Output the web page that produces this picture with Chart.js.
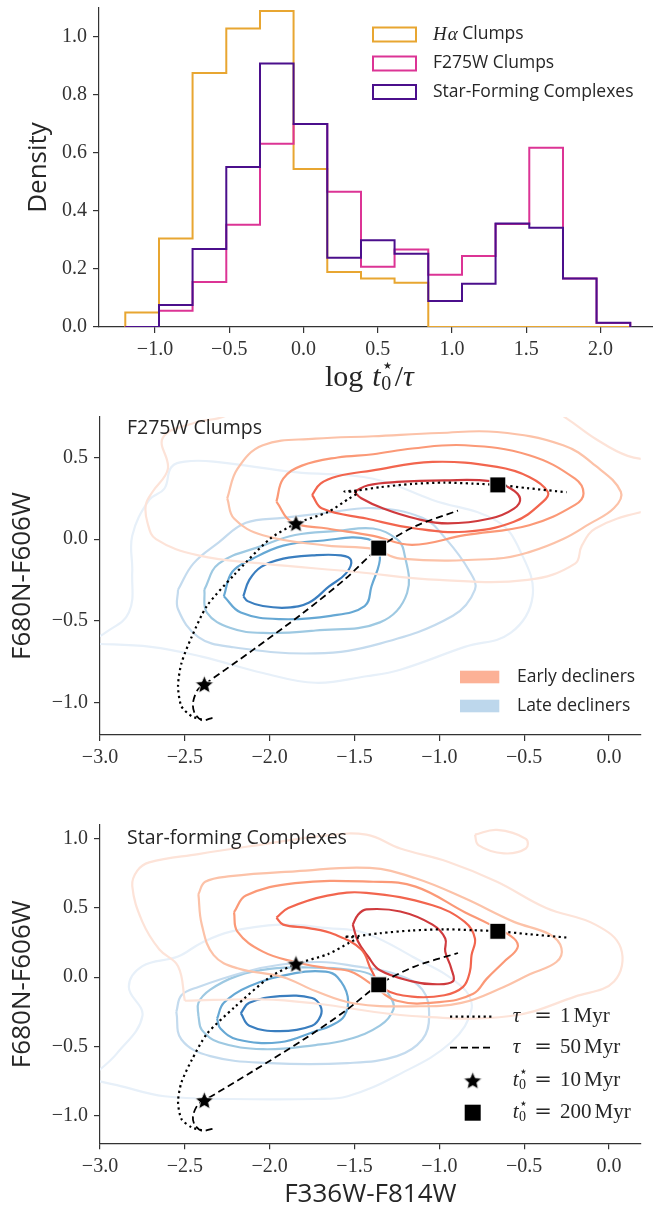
<!DOCTYPE html>
<html>
<head>
<meta charset="utf-8">
<title>Clump ages and colour tracks</title>
<script src="https://cdn.jsdelivr.net/npm/chart.js@4"></script>
<style>
  body { margin: 0; background: #fff; }
  #wrap { position: relative; width: 653px; height: 1210px; overflow: hidden; }
  canvas { position: absolute; left: 0; }
</style>
</head>
<body>
<div id="wrap">
  <canvas id="histChart" width="653" height="400" style="top:0px"></canvas>
  <canvas id="f275Chart" width="653" height="390" style="top:400px"></canvas>
  <canvas id="sfcChart" width="653" height="420" style="top:790px"></canvas>
</div>
<script>
// ---------- top panel: histograms of log t0/tau ----------
const binEdges = [-1.2, -0.973, -0.747, -0.52, -0.293, -0.067, 0.16, 0.387, 0.613, 0.84, 1.067, 1.293, 1.52, 1.747, 1.973, 2.2];
const haClumps    = [0.05, 0.305, 0.876, 1.029, 1.09, 0.545, 0.19, 0.167, 0.153, 0, 0, 0, 0, 0, 0];
const f275wClumps = [0, 0.056, 0.155, 0.353, 0.632, 0.70, 0.466, 0.208, 0.267, 0.18, 0.245, 0.355, 0.618, 0.167, 0.014];
const sfComplexes = [0, 0.076, 0.269, 0.552, 0.909, 0.70, 0.239, 0.299, 0.253, 0.09, 0.149, 0.357, 0.342, 0.167, 0.015];
const histLabels = ['Hα Clumps', 'F275W Clumps', 'Star-Forming Complexes'];
const histXTicks = [-1.0, -0.5, 0.0, 0.5, 1.0, 1.5, 2.0];
const histYTicks = [0.0, 0.2, 0.4, 0.6, 0.8, 1.0];

// ---------- colour-colour panels ----------
const colorXTicks = [-3.0, -2.5, -2.0, -1.5, -1.0, -0.5, 0.0];
const f275YTicks = [-1.0, -0.5, 0.0, 0.5];
const sfcYTicks = [-1.0, -0.5, 0.0, 0.5, 1.0];

// model tracks (same in both panels)
const tau1Track = [[-2.40,-1.105],[-2.46,-1.085],[-2.52,-1.024],[-2.54,-0.90],[-2.52,-0.76],[-2.46,-0.60],[-2.37,-0.41],
  [-2.21,-0.22],[-2.0,0.0],[-1.845,0.095],[-1.655,0.167],[-1.53,0.25],[-1.48,0.285],[-1.56,0.292],[-1.48,0.298],
  [-1.35,0.318],[-1.16,0.338],[-0.97,0.346],[-0.80,0.34],[-0.655,0.332],[-0.48,0.312],[-0.25,0.287]];
const tau50Track = [[-2.337,-1.095],[-2.40,-1.11],[-2.443,-1.064],[-2.452,-1.003],[-2.424,-0.922],[-2.385,-0.891],
  [-2.1,-0.68],[-1.8,-0.45],[-1.55,-0.24],[-1.357,-0.055],[-1.15,0.075],[-0.89,0.175]];
const age10Myr = [[-1.845,0.095],[-2.385,-0.891]];
const age200Myr = [[-1.357,-0.055],[-0.655,0.332]];
const trackLabels = ['τ = 1 Myr', 'τ = 50 Myr', 't0 = 10 Myr', 't0 = 200 Myr'];
const declinerLabels = ['Early decliners', 'Late decliners'];

// KDE contour levels, outermost first
const f275wEarly = [
  [[0.3,0.16],[0.19,0.165],[-0.08,0.065],[-0.16,-0.04],[-0.2,-0.15],[-0.48,-0.25],[-1.0,-0.25],[-1.5,-0.2],[-2.04,-0.15],
   [-2.42,-0.10],[-2.67,0.0],[-2.72,0.10],[-2.73,0.21],[-2.69,0.29],[-2.60,0.43],[-2.63,0.62],[-2.45,0.71],[-2.25,0.76],
   [-2.1,0.9],[-0.5,0.9],[-0.25,0.74],[-0.08,0.615],[0.11,0.51],[0.3,0.48]],
  [[-2.25,0.25],[-2.19,0.43],[-2.04,0.575],[-1.73,0.615],[-1.39,0.63],[-1.0,0.65],[-0.66,0.656],[-0.27,0.575],[-0.08,0.45],
   [0.07,0.29],[0.03,0.19],[-0.12,0.09],[-0.27,0.0],[-0.47,-0.08],[-0.66,-0.12],[-1.23,-0.12],[-1.39,-0.06],[-1.66,-0.04],
   [-2.04,0.024],[-2.21,0.126],[-2.25,0.25]],
  [[-1.96,0.23],[-1.92,0.37],[-1.81,0.45],[-1.6,0.50],[-1.39,0.52],[-1.16,0.555],[-0.85,0.575],[-0.47,0.514],[-0.2,0.37],
   [-0.15,0.28],[-0.2,0.21],[-0.47,0.085],[-0.85,0.024],[-1.16,-0.035],[-1.39,0.02],[-1.66,0.065],[-1.87,0.105],[-1.96,0.23]],
  [[-1.75,0.27],[-1.70,0.34],[-1.60,0.385],[-1.40,0.42],[-1.04,0.473],[-0.66,0.442],[-0.47,0.381],[-0.36,0.289],[-0.39,0.228],
   [-0.56,0.106],[-0.85,0.045],[-1.14,0.065],[-1.43,0.126],[-1.69,0.187],[-1.75,0.27]],
  [[-1.50,0.29],[-1.42,0.33],[-1.25,0.35],[-0.97,0.36],[-0.70,0.355],[-0.58,0.31],[-0.524,0.249],[-0.56,0.187],[-0.70,0.126],
   [-0.95,0.096],[-1.14,0.126],[-1.33,0.187],[-1.46,0.25],[-1.50,0.29]]
];
const f275wLate = [
  [[-3.05,-0.62],[-2.97,-0.575],[-2.83,-0.45],[-2.81,-0.2],[-2.81,0.02],[-2.71,0.24],[-2.62,0.31],[-2.58,0.44],[-2.5,0.475],
   [-2.33,0.475],[-1.85,0.41],[-1.39,0.37],[-1.04,0.24],[-0.66,0.11],[-0.52,-0.08],[-0.45,-0.35],[-0.58,-0.575],[-0.85,-0.66],
   [-1.23,-0.80],[-1.43,-0.84],[-1.73,-0.88],[-2.04,-0.82],[-2.4,-0.72],[-2.7,-0.66],[-3.05,-0.64]],
  [[-2.54,-0.31],[-2.45,-0.15],[-2.3,-0.02],[-2.14,0.10],[-1.92,0.13],[-1.67,0.16],[-1.39,0.19],[-1.1,0.13],[-0.96,0.0],
   [-0.82,-0.2],[-0.79,-0.31],[-0.92,-0.47],[-1.35,-0.64],[-1.73,-0.70],[-2.23,-0.66],[-2.42,-0.60],[-2.54,-0.43],[-2.54,-0.31]],
  [[-2.385,-0.31],[-2.3,-0.15],[-2.04,-0.04],[-1.85,0.025],[-1.6,0.05],[-1.39,0.065],[-1.25,0.0],[-1.21,-0.07],[-1.19,-0.33],
   [-1.35,-0.51],[-1.73,-0.56],[-2.04,-0.575],[-2.23,-0.545],[-2.37,-0.45],[-2.385,-0.31]],
  [[-2.27,-0.35],[-2.22,-0.2],[-2.10,-0.12],[-1.92,-0.04],[-1.7,-0.01],[-1.42,0.0],[-1.35,-0.10],[-1.40,-0.29],[-1.44,-0.41],
   [-1.64,-0.47],[-1.94,-0.49],[-2.17,-0.45],[-2.27,-0.35]],
  [[-2.155,-0.35],[-2.12,-0.25],[-2.05,-0.17],[-1.92,-0.12],[-1.75,-0.10],[-1.58,-0.10],[-1.52,-0.13],[-1.55,-0.21],[-1.65,-0.29],
   [-1.77,-0.39],[-1.9,-0.42],[-2.04,-0.41],[-2.13,-0.38],[-2.155,-0.35]]
];
const sfcEarly = [
  [[-2.5,-0.17],[-2.54,0.08],[-2.65,0.2],[-2.75,0.40],[-2.81,0.66],[-2.78,0.77],[-2.71,0.83],[-2.42,0.89],[-2.04,0.96],
   [-1.7,1.02],[-1.43,1.03],[-1.23,0.93],[-0.95,0.835],[-0.66,0.69],[-0.37,0.50],[-0.08,0.38],[0.07,0.21],[0.03,-0.03],
   [-0.2,-0.14],[-0.58,-0.28],[-1.16,-0.28],[-1.73,-0.19],[-2.04,-0.16],[-2.5,-0.17]],
  [[-2.42,0.6],[-2.38,0.69],[-2.23,0.73],[-1.85,0.765],[-1.41,0.79],[-1.14,0.715],[-0.85,0.57],[-0.56,0.40],[-0.35,0.31],
   [-0.28,0.21],[-0.31,0.11],[-0.47,0.02],[-0.62,-0.07],[-0.87,-0.185],[-1.16,-0.21],[-1.5,-0.19],[-1.73,-0.1],[-1.92,0.0],
   [-2.19,0.065],[-2.33,0.16],[-2.40,0.38],[-2.42,0.6]],
  [[-2.21,0.47],[-2.14,0.59],[-1.85,0.68],[-1.39,0.69],[-1.14,0.655],[-0.85,0.47],[-0.70,0.38],[-0.56,0.28],[-0.54,0.21],
   [-0.62,0.11],[-0.72,-0.01],[-0.80,-0.12],[-1.0,-0.18],[-1.25,-0.17],[-1.40,-0.05],[-1.52,0.04],[-1.66,0.065],[-1.85,0.11],
   [-2.04,0.185],[-2.19,0.33],[-2.21,0.47]],
  [[-1.96,0.43],[-1.89,0.50],[-1.66,0.59],[-1.43,0.61],[-1.04,0.52],[-0.85,0.40],[-0.79,0.28],[-0.81,0.16],[-0.82,0.04],
   [-0.86,-0.07],[-0.97,-0.13],[-1.16,-0.14],[-1.33,-0.08],[-1.40,0.05],[-1.46,0.2],[-1.62,0.31],[-1.77,0.355],[-1.92,0.38],[-1.96,0.43]],
  [[-1.51,0.38],[-1.48,0.45],[-1.43,0.49],[-1.23,0.475],[-1.04,0.38],[-0.965,0.28],[-0.965,0.185],[-0.93,0.065],[-0.92,-0.03],
   [-1.04,-0.05],[-1.16,-0.03],[-1.35,0.05],[-1.42,0.15],[-1.48,0.26],[-1.51,0.38]]
];
const sfcEarlyIsland = [[-0.79,1.03],[-0.66,1.065],[-0.49,1.0],[-0.49,0.93],[-0.62,0.895],[-0.77,0.955],[-0.79,1.03]];
const sfcLate = [
  [[-3.05,-0.72],[-2.9,-0.55],[-2.75,-0.28],[-2.83,-0.07],[-2.75,0.08],[-2.54,0.15],[-2.4,0.25],[-2.23,0.33],[-1.94,0.38],
   [-1.66,0.355],[-1.44,0.32],[-1.16,0.15],[-0.87,-0.065],[-0.81,-0.23],[-0.93,-0.47],[-1.25,-0.71],[-1.54,-0.86],[-1.73,-0.88],
   [-2.23,-0.88],[-2.62,-0.86],[-2.9,-0.78],[-3.05,-0.74]],
  [[-2.55,-0.25],[-2.52,-0.13],[-2.42,-0.07],[-2.14,0.04],[-1.94,0.09],[-1.7,0.11],[-1.5,0.08],[-1.25,0.02],[-1.10,-0.09],
   [-1.06,-0.28],[-1.10,-0.45],[-1.25,-0.57],[-1.54,-0.62],[-2.0,-0.62],[-2.35,-0.57],[-2.52,-0.45],[-2.55,-0.25]],
  [[-2.42,-0.28],[-2.42,-0.185],[-2.35,-0.09],[-2.19,0.01],[-2.0,0.06],[-1.73,0.07],[-1.54,0.056],[-1.39,0.01],[-1.29,-0.14],
   [-1.27,-0.23],[-1.35,-0.35],[-1.54,-0.45],[-1.73,-0.49],[-2.04,-0.52],[-2.30,-0.47],[-2.40,-0.38],[-2.42,-0.28]],
  [[-2.31,-0.30],[-2.27,-0.185],[-2.12,-0.065],[-1.85,0.03],[-1.67,0.04],[-1.60,0.0],[-1.54,-0.14],[-1.56,-0.28],[-1.64,-0.35],
   [-1.73,-0.39],[-1.94,-0.47],[-2.19,-0.45],[-2.29,-0.37],[-2.31,-0.30]],
  [[-2.17,-0.26],[-2.12,-0.185],[-1.94,-0.137],[-1.75,-0.15],[-1.70,-0.21],[-1.70,-0.28],[-1.75,-0.35],[-1.94,-0.39],
   [-2.12,-0.35],[-2.17,-0.26]]
];

// ---------- styling ----------
const INK = '#333333';
const TEXT = '#262626';
const SANS = "'Open Sans', 'DejaVu Sans', sans-serif";
const SERIF = "'Liberation Serif', 'DejaVu Serif', serif";
const SYM = "'DejaVu Sans', 'Liberation Serif', serif";
const HA_COL = '#e8a631', F275_COL = '#dc3495', SFC_COL = '#4b0f8c';
const REDS = ['#fde3d8', '#fcc2a8', '#fb9977', '#f2654e', '#cf3a3d'];
const BLUES = ['#e7f0f9', '#c4dbee', '#9ec9e2', '#66a8d4', '#3a7ebf'];
const EARLY_PATCH = '#fcb196', LATE_PATCH = '#bdd7ec';

const pts = arr => arr.map(([x, y]) => ({x, y}));
const fmt = v => (v < 0 ? '\u2212' : '') + Math.abs(v).toFixed(1);

function stepPoints(heights) {
  const n = binEdges.length - 1;
  const out = [{x: binEdges[0], y: 0}];
  heights.forEach((h, i) => out.push({x: binEdges[i], y: h}));
  out.push({x: binEdges[n], y: heights[n - 1]});
  out.push({x: binEdges[n], y: 0});
  return out;
}

function starSprite(r) {
  const s = Math.ceil(r * 2 + 4);
  const c = document.createElement('canvas');
  c.width = c.height = s;
  const g = c.getContext('2d');
  g.beginPath();
  for (let i = 0; i < 10; i++) {
    const a = -Math.PI / 2 + i * Math.PI / 5;
    const rr = i % 2 ? r * 0.46 : r;
    g.lineTo(s / 2 + rr * Math.cos(a), s / 2 + 0.6 + rr * Math.sin(a));
  }
  g.closePath();
  g.fillStyle = '#000';
  g.fill();
  g.strokeStyle = '#fff';
  g.lineWidth = 0.8;
  g.stroke();
  return c;
}
const STAR = starSprite(9.5);

function axis(min, max, ticks, size, horizontal, title) {
  return {
    type: 'linear', min, max,
    afterBuildTicks: s => { s.ticks = ticks.map(v => ({value: v})); },
    afterFit: s => {
      if (horizontal) s.height = size; else s.width = size;
      s.paddingTop = s.paddingBottom = s.paddingLeft = s.paddingRight = 0;
    },
    grid: { drawOnChartArea: false, drawTicks: true, tickLength: 6, color: INK, lineWidth: 1.2 },
    border: { display: true, color: INK, width: 1.2 },
    ticks: { callback: v => fmt(v), font: { family: SERIF, size: 20 }, color: INK,
             padding: horizontal ? 5 : 6, maxRotation: 0, autoSkip: false },
    title: title || { display: false }
  };
}

function axisTitle(text, pad) {
  return { display: true, text, color: TEXT, font: { family: SANS, size: 26 }, padding: { top: pad, bottom: 0 } };
}

function baseOptions(padTop, x, y) {
  return {
    responsive: false, animation: false, events: [],
    layout: { padding: { top: padTop, left: 0, right: 0, bottom: 0 } },
    plugins: { legend: { display: false }, tooltip: { enabled: false } },
    elements: { point: { radius: 0 } },
    scales: { x, y }
  };
}

// ---------- text helpers for the decorations ----------
function text(ctx, str, x, y, font, align) {
  ctx.font = font;
  ctx.fillStyle = TEXT;
  ctx.textAlign = align || 'left';
  ctx.textBaseline = 'middle';
  ctx.fillText(str, x, y);
  return ctx.measureText(str).width;
}

// t with subscript 0 and a superscript star, returns width
function tStar(ctx, x, y, size) {
  let w = text(ctx, 't', x, y, `italic ${size}px ${SERIF}`);
  const small = Math.round(size * 0.68);
  const w0 = text(ctx, '0', x + w + 0.5, y + size * 0.22, `${small}px ${SERIF}`);
  const ws = text(ctx, '\u22c6', x + w + 0.5, y - size * 0.38, `${small}px ${SYM}`);
  return w + 0.5 + Math.max(w0, ws);
}

// ---------- top panel ----------
const histDecor = {
  id: 'histDecor',
  afterDraw(chart) {
    const ctx = chart.ctx;
    ctx.save();
    const rows = [34.5, 63.5, 92];
    chart.data.datasets.slice().sort((a, b) => a.legendIndex - b.legendIndex).forEach((ds, i) => {
      ctx.strokeStyle = ds.borderColor;
      ctx.lineWidth = 2;
      ctx.strokeRect(373, rows[i] - 7, 43, 14);
      const label = ds.label;
      let x = 433;
      if (label.startsWith('Hα')) {
        x += text(ctx, 'H', x, rows[i], `italic 19px ${SERIF}`);
        x += text(ctx, 'α', x + 1, rows[i], `italic 19px ${SERIF}`) + 1;
        text(ctx, label.slice(2), x, rows[i], `17.5px ${SANS}`);
      } else {
        text(ctx, label, x, rows[i], `17.5px ${SANS}`);
      }
    });
    // x label: log t0*/tau
    const y = 378, size = 30;
    let x = 325;
    x += text(ctx, 'log', x, y, `${size}px ${SERIF}`) + size * 0.3;
    x += tStar(ctx, x, y, size) + 1;
    x += text(ctx, '/', x, y, `${size}px ${SERIF}`);
    text(ctx, 'τ', x, y, `italic ${size}px ${SERIF}`);
    ctx.restore();
  }
};

new Chart(document.getElementById('histChart'), {
  type: 'line',
  data: {
    datasets: [
      { label: histLabels[2], legendIndex: 2, data: stepPoints(sfComplexes), borderColor: SFC_COL, order: 0 },
      { label: histLabels[1], legendIndex: 1, data: stepPoints(f275wClumps), borderColor: F275_COL, order: 1 },
      { label: histLabels[0], legendIndex: 0, data: stepPoints(haClumps), borderColor: HA_COL, order: 2 }
    ].map(d => Object.assign(d, { stepped: 'before', borderWidth: 2, pointRadius: 0, fill: false, borderJoinStyle: 'miter' }))
  },
  options: baseOptions(8,
    axis(-1.377, 2.353, histXTicks, 73, true),
    axis(0, 1.1, histYTicks, 99, false, axisTitle('Density', 23))),
  plugins: [histDecor]
});

// ---------- colour-colour panels ----------
function contourSets(levels, colors, order) {
  return levels.map((lv, i) => ({
    data: pts(lv), borderColor: colors[i], borderWidth: 2.2, tension: 0.4,
    pointRadius: 0, fill: false, order
  }));
}

function trackSets() {
  return [
    { data: pts(age200Myr), showLine: false, pointStyle: 'rect', pointRadius: 11.3,
      pointBackgroundColor: '#000', pointBorderColor: '#fff', pointBorderWidth: 1, order: 0 },
    { data: pts(age10Myr), showLine: false, pointStyle: STAR, pointRadius: 10, order: 0 },
    { data: pts(tau1Track), borderColor: '#000', borderWidth: 2.2, borderDash: [2.2, 3.4], tension: 0.25, pointRadius: 0, order: 1 },
    { data: pts(tau50Track), borderColor: '#000', borderWidth: 1.8, borderDash: [7, 4], tension: 0.3, pointRadius: 0, order: 1 }
  ];
}

const f275Decor = {
  id: 'f275Decor',
  afterDraw(chart) {
    const ctx = chart.ctx;
    ctx.save();
    text(ctx, 'F275W Clumps', 127, 28.7, `19.5px ${SANS}`);
    const rows = [277, 306];
    const patches = [EARLY_PATCH, LATE_PATCH];
    declinerLabels.forEach((lab, i) => {
      ctx.fillStyle = patches[i];
      ctx.fillRect(460, rows[i] - 6.3, 39.3, 12.6);
      text(ctx, lab, 517, rows[i], `17.5px ${SANS}`);
    });
    ctx.restore();
  }
};

new Chart(document.getElementById('f275Chart'), {
  type: 'line',
  data: {
    datasets: [
      ...trackSets(),
      ...contourSets(f275wEarly, REDS, 2),
      ...contourSets(f275wLate, BLUES, 3)
    ]
  },
  options: baseOptions(17,
    axis(-3.0, 0.187, colorXTicks, 55, true),
    axis(-1.2, 0.748, f275YTicks, 100, false, axisTitle('F680N-F606W', 6.5))),
  plugins: [f275Decor]
});

const sfcDecor = {
  id: 'sfcDecor',
  afterDraw(chart) {
    const ctx = chart.ctx;
    ctx.save();
    text(ctx, 'Star-forming Complexes', 127, 48.7, `19.5px ${SANS}`);
    const rows = [226.7, 257.7, 290.7, 322.7];
    const size = 21;
    ctx.strokeStyle = '#000';
    [[2.2, 3.4], [7, 4]].forEach((dash, i) => {
      ctx.lineWidth = i ? 1.8 : 2.2;
      ctx.setLineDash(dash);
      ctx.beginPath();
      ctx.moveTo(450, rows[i]);
      ctx.lineTo(492, rows[i]);
      ctx.stroke();
    });
    ctx.setLineDash([]);
    ctx.drawImage(STAR, 472.7 - STAR.width / 2, rows[2] - STAR.height / 2);
    ctx.fillStyle = '#000';
    ctx.fillRect(472.7 - 8, rows[3] - 8, 16, 16);
    trackLabels.forEach((lab, i) => {
      const y = rows[i];
      if (lab.startsWith('τ')) text(ctx, 'τ', 512.7, y, `italic ${size}px ${SERIF}`);
      else tStar(ctx, 512.7, y, size);
      text(ctx, '=', 543, y, `${size}px 'DejaVu Serif', serif`, 'center');
      const rhs = lab.split('= ')[1].split(' ');
      const w = text(ctx, rhs[0], 560, y, `${size}px ${SERIF}`);
      text(ctx, rhs[1], 560 + w + 3, y, `${size}px ${SERIF}`);
    });
    ctx.restore();
  }
};

new Chart(document.getElementById('sfcChart'), {
  type: 'line',
  data: {
    datasets: [
      ...trackSets(),
      ...contourSets(sfcEarly, REDS, 2),
      ...contourSets([sfcEarlyIsland], [REDS[0]], 2),
      ...contourSets(sfcLate, BLUES, 3)
    ]
  },
  options: baseOptions(35,
    axis(-3.0, 0.187, colorXTicks, 66.7, true, axisTitle('F336W-F814W', 4.4)),
    axis(-1.2, 1.1, sfcYTicks, 100, false, axisTitle('F680N-F606W', 6.5))),
  plugins: [sfcDecor]
});
</script>
</body>
</html>
